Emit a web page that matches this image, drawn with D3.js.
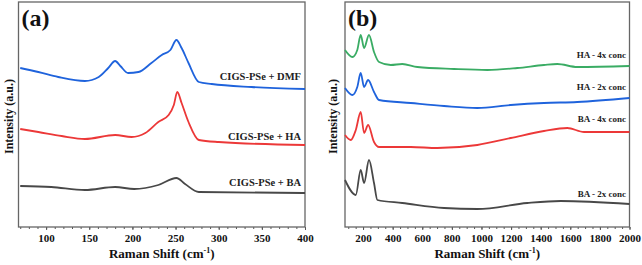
<!DOCTYPE html>
<html>
<head>
<meta charset="utf-8">
<script src="https://cdn.jsdelivr.net/npm/d3@7"></script>
<style>
  body { margin: 0; background: #fff; }
  text { font-family: "Liberation Serif", "Times New Roman", serif; font-weight: bold; }
</style>
</head>
<body>
<svg id="chart" width="642" height="265"></svg>
<script>
// panel (a) spectra, [Raman shift, intensity a.u.]
const dmfA = [[70, 159], [91, 155], [114, 150], [145, 146], [161, 150], [172, 159], [180, 166], [186, 161],
  [195, 154], [207, 155], [222, 164], [234, 172], [244, 177], [251, 187], [257, 179], [265, 164],
  [277, 145], [292, 143], [338, 140], [400, 138]];
const haA = [[70, 98], [91, 95], [118, 91], [145, 88], [180, 92], [199, 90], [215, 94], [230, 105],
  [242, 112], [248, 122], [252, 135], [257, 124], [265, 105], [277, 87], [300, 85], [400, 82]];
const baA = [[70, 41], [106, 40], [145, 37], [180, 40], [202, 38], [230, 42], [251, 49], [261, 43],
  [277, 35], [400, 34]];

// panel (b) spectra
const ha4x = [[78, 177], [128, 170], [161, 177], [184, 192], [207, 179], [240, 192], [274, 175], [308, 165],
  [387, 162], [465, 163], [567, 160], [815, 158], [1040, 157], [1242, 159], [1422, 162], [1512, 163],
  [1647, 160], [2000, 161]];
const ha2x = [[78, 139], [128, 132], [161, 140], [184, 154], [207, 140], [234, 147], [274, 135], [308, 127],
  [522, 124], [747, 121], [972, 119], [1198, 122], [1422, 124], [1647, 125], [2000, 129]];
const ba4x = [[78, 92], [117, 87], [151, 97], [184, 115], [207, 94], [234, 102], [274, 85], [308, 80],
  [522, 80], [702, 79], [972, 82], [1198, 89], [1422, 96], [1580, 99], [1693, 95], [2000, 95]];
const ba2x = [[78, 47], [151, 32], [184, 57], [207, 44], [240, 67], [274, 44], [297, 27], [465, 24],
  [747, 19], [972, 18], [1310, 24], [1535, 26], [2000, 23]];

const ticksA = [100, 150, 200, 250, 300, 350, 400];
const ticksB = [200, 400, 600, 800, 1000, 1200, 1400, 1600, 1800, 2000];

const svg = d3.select('#chart');
const plotTop = 2, plotBottom = 227;
const y = d3.scaleLinear().domain([0, 225]).range([plotBottom, plotTop]);

function panel(opts) {
  const x = d3.scaleLinear().domain(opts.domain).range([opts.left, opts.right]);
  const g = svg.append('g');

  // minor ticks
  g.append('g')
    .attr('transform', `translate(0,${plotBottom})`)
    .call(d3.axisBottom(x).tickValues(opts.minor).tickSize(2).tickFormat(''))
    .call(a => a.select('.domain').remove())
    .selectAll('line').attr('stroke', '#555');

  const xAxis = g.append('g')
    .attr('transform', `translate(0,${plotBottom})`)
    .call(d3.axisBottom(x).tickValues(opts.ticks).tickFormat(d3.format('d'))
      .tickSize(3).tickSizeOuter(0).tickPadding(4));
  xAxis.select('.domain').remove();
  xAxis.selectAll('line').attr('stroke', '#555');
  xAxis.selectAll('text').attr('font-size', 11).attr('fill', '#111')
    .attr('font-family', '"Liberation Serif", serif').attr('font-weight', 'bold');

  // frame
  g.append('rect')
    .attr('x', opts.left).attr('y', plotTop)
    .attr('width', opts.right - opts.left).attr('height', plotBottom - plotTop)
    .attr('fill', 'none').attr('stroke', '#666').attr('stroke-width', 1.3);

  const line = d3.line().x(d => x(d[0])).y(d => y(d[1])).curve(d3.curveMonotoneX);
  opts.series.forEach(s => {
    g.append('path').datum(s.data)
      .attr('d', line)
      .attr('fill', 'none')
      .attr('stroke', s.color)
      .attr('stroke-width', 1.8)
      .attr('stroke-linejoin', 'round');
    g.append('text')
      .attr('x', opts.labelX).attr('y', s.labelY)
      .attr('text-anchor', 'end')
      .attr('font-size', opts.labelSize)
      .attr('fill', '#222')
      .text(s.name);
  });

  g.append('text')
    .attr('x', opts.left + 3).attr('y', 26)
    .attr('font-size', 24).attr('fill', '#111')
    .text(opts.title);

  g.append('text')
    .attr('transform', `translate(${opts.left - opts.ylabOff},${(plotTop + plotBottom) / 2 + 2}) rotate(-90)`)
    .attr('text-anchor', 'middle')
    .attr('font-size', 12).attr('fill', '#111')
    .text('Intensity (a.u.)');

  const xl = g.append('text')
    .attr('x', (opts.left + opts.right) / 2).attr('y', 258)
    .attr('text-anchor', 'middle')
    .attr('font-size', 13).attr('fill', '#111');
  xl.append('tspan').text('Raman Shift (cm');
  xl.append('tspan').attr('font-size', 8).attr('dy', -5).text('-1');
  xl.append('tspan').attr('dy', 5).text(')');
}

panel({
  left: 18.5, right: 305, domain: [68, 400],
  ticks: ticksA, minor: d3.range(70, 401, 10),
  title: '(a)', labelX: 301, labelSize: 10.5, ylabOff: 6,
  series: [
    { data: dmfA, color: '#1f63dc', name: 'CIGS-PSe + DMF', labelY: 79.5 },
    { data: haA, color: '#ec3838', name: 'CIGS-PSe + HA', labelY: 140 },
    { data: baA, color: '#484848', name: 'CIGS-PSe + BA', labelY: 186 }
  ]
});

panel({
  left: 345, right: 629.5, domain: [78, 2000],
  ticks: ticksB, minor: d3.range(100, 2001, 50),
  title: '(b)', labelX: 626, labelSize: 9, ylabOff: 8,
  series: [
    { data: ha4x, color: '#3aac64', name: 'HA - 4x conc', labelY: 57.5 },
    { data: ha2x, color: '#1f63dc', name: 'HA - 2x conc', labelY: 90 },
    { data: ba4x, color: '#ec3838', name: 'BA - 4x conc', labelY: 122 },
    { data: ba2x, color: '#484848', name: 'BA - 2x conc', labelY: 196.5 }
  ]
});
</script>
</body>
</html>
